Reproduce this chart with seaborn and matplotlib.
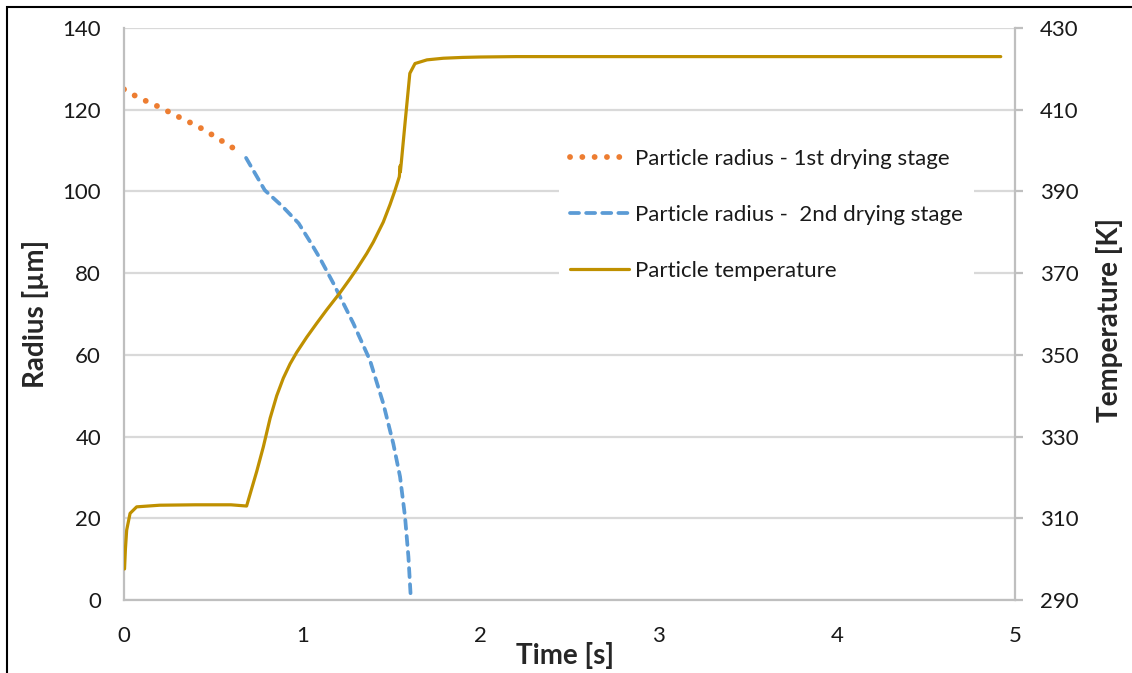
import numpy as np
import pandas as pd
import seaborn as sns
import matplotlib.pyplot as plt
from matplotlib.patches import Rectangle

# values
t_stage1 = [0.0, 0.067, 0.135, 0.196, 0.264, 0.331, 0.398, 0.46, 0.522, 0.584, 0.651]
r_stage1 = [125.0, 123.3, 121.9, 120.7, 119.2, 117.7, 116.3, 114.8, 113.1, 111.4, 109.6]

t_stage2 = [0.685, 0.79, 0.89, 0.98, 1.05, 1.10, 1.175, 1.287, 1.38, 1.455, 1.511, 1.549, 1.577, 1.596, 1.609]
r_stage2 = [108.2, 100.3, 96.3, 92.2, 87.3, 83.6, 77.5, 67.7, 58.7, 48.1, 38.3, 30.2, 20.4, 10.6, 0.8]

t_temp = [0.003, 0.008, 0.015, 0.034, 0.071, 0.2, 0.4, 0.6, 0.688, 0.745, 0.782, 0.82, 0.857,
          0.894, 0.932, 0.969, 1.025, 1.081, 1.137, 1.212, 1.268, 1.306, 1.362, 1.399, 1.455,
          1.493, 1.521, 1.545, 1.550, 1.551, 1.556, 1.577, 1.604, 1.633, 1.7, 1.792, 1.9, 2.0,
          2.2, 3.0, 4.0, 4.92]
T_temp = [297.6, 302.5, 307.1, 311.2, 312.8, 313.2, 313.3, 313.3, 313.0, 321.5, 327.5, 334.5, 340.0,
          344.3, 347.8, 350.6, 354.3, 357.7, 361.0, 365.2, 368.6, 371.0, 374.8, 377.6, 382.5,
          386.8, 390.3, 393.6, 396.3, 394.8, 397.0, 406.7, 418.9, 421.3, 422.2, 422.6, 422.8, 422.9,
          423.0, 423.0, 423.0, 423.0]

labels = ["Particle radius - 1st drying stage", "Particle radius -  2nd drying stage",
          "Particle temperature"]

df1 = pd.DataFrame({"t": t_stage1, "r": r_stage1})
df2 = pd.DataFrame({"t": t_stage2, "r": r_stage2})
df3 = pd.DataFrame({"t": t_temp, "T": T_temp})

sns.set_style("white")
plt.rcParams["font.family"] = ["Lato", "DejaVu Sans"]

fig = plt.figure(figsize=(11.32, 6.73), dpi=100)
ax = fig.add_axes([124/1132, 1-600/673, (1015-124)/1132, (600-28)/673])
ax2 = ax.twinx()

grey = "#BFBFBF"
sns.lineplot(data=df1, x="t", y="r", ax=ax, color="#ED7D31", lw=4.2,
             linestyle=(0, (0.01, 2.1)), dash_capstyle="round", label=labels[0])
sns.lineplot(data=df2, x="t", y="r", ax=ax, color="#5B9BD5", lw=2.7,
             linestyle=(0, (2.4, 1.9)), dash_capstyle="round", label=labels[1])
sns.lineplot(data=df3, x="t", y="T", ax=ax2, color="#BF9000", lw=2.3,
             label=labels[2], sort=False)

for a in (ax, ax2):
    if a.get_legend() is not None:
        a.get_legend().remove()

ax.set_xlim(0, 5)
ax.set_ylim(0, 140)
ax2.set_ylim(290, 430)
ax.set_xticks(range(0, 6))
ax.set_yticks(range(0, 141, 20))
ax2.set_yticks(range(290, 431, 20))

ax.yaxis.grid(True, color="#D9D9D9", lw=1.6)
ax.xaxis.grid(False)
ax.set_axisbelow(True)

for a in (ax, ax2):
    a.spines["top"].set_visible(False)
    for s in ("left", "bottom", "right"):
        a.spines[s].set_color(grey)
        a.spines[s].set_linewidth(1.6)
ax.spines["right"].set_visible(False)
ax2.spines["left"].set_visible(False)
ax2.spines["bottom"].set_visible(False)

ax.tick_params(axis="x", length=0, pad=19, labelsize=16, colors="#1a1a1a")
ax.tick_params(axis="y", length=0, pad=16.5, labelsize=16, colors="#1a1a1a")
ax2.tick_params(axis="y", length=5.8, width=1.6, color=grey, direction="out",
                pad=12, labelsize=16, labelcolor="#1a1a1a")

ax.set_xlabel("Time [s]", fontsize=20, fontweight="bold")
ax.set_ylabel("Radius [µm]", fontsize=20, fontweight="bold")
ax2.set_ylabel("Temperature [K]", fontsize=20, fontweight="bold")
ax.xaxis.set_label_coords(0.495, -0.074)
ax.yaxis.set_label_coords(-0.084, 0.5)
ax2.yaxis.set_label_coords(1.091, 0.49)

handles = ax.get_lines()[:2] + ax2.get_lines()[:1]
leg = ax2.legend(handles, labels, loc="upper left",
                 bbox_to_anchor=(548/1132, 1-127/673), bbox_transform=fig.transFigure,
                 fontsize=16, frameon=True, facecolor="white", edgecolor="none",
                 framealpha=1, handlelength=2.65, handletextpad=0.28, labelspacing=1.62,
                 borderpad=0.5, fancybox=False)
for txt in leg.get_texts():
    txt.set_color("#1a1a1a")

fig.patches.append(Rectangle((7/1132, -0.1), 1.2, 1-7/673+0.1, transform=fig.transFigure,
                             fill=False, edgecolor="black", lw=1.5))

fig.savefig("out.png", dpi=100)
